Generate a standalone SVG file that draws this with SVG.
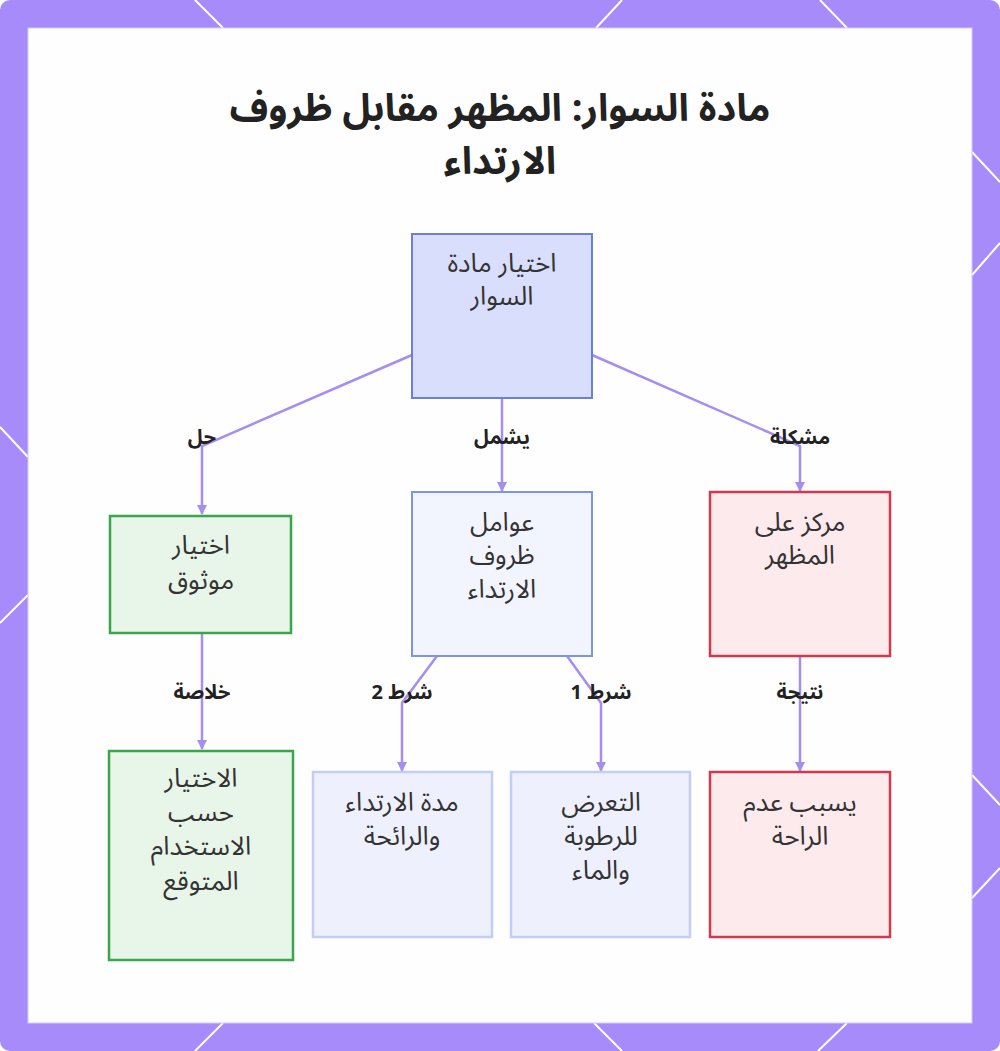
<svg xmlns="http://www.w3.org/2000/svg" width="1000" height="1051" viewBox="0 0 1000 1051">
<defs>
<style>
.bgl{stroke:#ffffff;stroke-width:2;fill:none}
.t{font-family:"Noto Sans Arabic","Noto Sans","DejaVu Sans",sans-serif;font-size:26px;fill:#333333;text-anchor:middle;direction:rtl}
.title{font-family:"Noto Sans Arabic","Noto Sans","DejaVu Sans",sans-serif;font-size:38px;font-weight:bold;fill:#222222;text-anchor:middle;direction:rtl}
.lbl{font-family:"Noto Sans Arabic","Noto Sans","DejaVu Sans",sans-serif;font-size:20px;font-weight:bold;fill:#222222;text-anchor:middle;direction:rtl}
.e{stroke:#a48ef0;stroke-width:2.5;fill:none;marker-end:url(#ah)}
.nTop{fill:#d9defc;stroke:#6b80d6;stroke-width:2}
.nMid{fill:#f3f5fe;stroke:#7d93e3;stroke-width:2}
.nGreen{fill:#e8f5e9;stroke:#3aa64c;stroke-width:2.5}
.nRed{fill:#fdeaec;stroke:#d03a4c;stroke-width:2.5}
.nLight{fill:#eef1fd;stroke:#c3cdf5;stroke-width:2.5}
</style>
<marker id="ah" viewBox="0 0 10 10" refX="9" refY="5" markerWidth="4" markerHeight="4" orient="auto" markerUnits="strokeWidth">
<path d="M0,0 L10,5 L0,10 z" fill="#a48ef0"/>
</marker>
</defs>
<rect x="0" y="0" width="1000" height="1051" rx="10" fill="#a78bfa"/>
<g id="bg-lines">
<line class="bgl" x1="195" y1="0" x2="223" y2="28"/>
<line class="bgl" x1="622" y1="0" x2="596" y2="28"/>
<line class="bgl" x1="820" y1="0" x2="847" y2="28"/>
<line class="bgl" x1="223" y1="1023" x2="195" y2="1051"/>
<line class="bgl" x1="594" y1="1023" x2="622" y2="1051"/>
<line class="bgl" x1="847" y1="1023" x2="818" y2="1051"/>
<line class="bgl" x1="0" y1="427" x2="28" y2="457"/>
<line class="bgl" x1="28" y1="595" x2="0" y2="623"/>
<line class="bgl" x1="972" y1="152" x2="1000" y2="182"/>
<line class="bgl" x1="972" y1="275" x2="1000" y2="243"/>
<line class="bgl" x1="972" y1="775" x2="1000" y2="805"/>
<line class="bgl" x1="972" y1="898" x2="1000" y2="868"/>
</g>
<rect x="28" y="28" width="944" height="995" fill="#fefefe" stroke="#d6c9fd" stroke-width="1"/>
<g id="title">
<text class="title" x="500" y="121">مادة السوار: المظهر مقابل ظروف</text>
<text class="title" x="500" y="174">الارتداء</text>
</g>
<g id="connectors">
<polyline class="e" points="412,355 202,446 202,514"/>
<polyline class="e" points="502,398 502,491"/>
<polyline class="e" points="592,355 800,446 800,491"/>
<polyline class="e" points="202,634 202,749"/>
<polyline class="e" points="437,656 402,703 402,771"/>
<polyline class="e" points="567,656 601,703 601,771"/>
<polyline class="e" points="800,656 800,771"/>
<text class="lbl" x="202" y="444">حل</text>
<text class="lbl" x="502" y="444">يشمل</text>
<text class="lbl" x="800" y="444">مشكلة</text>
<text class="lbl" x="202" y="699">خلاصة</text>
<text class="lbl" x="402" y="699">شرط 2</text>
<text class="lbl" x="601" y="699">شرط 1</text>
<text class="lbl" x="800" y="699">نتيجة</text>
</g>
<g id="node-choose">
<rect class="nTop" x="412" y="234" width="180" height="164"/>
<text class="t" x="502" y="272">اختيار مادة</text>
<text class="t" x="502" y="305">السوار</text>
</g>
<g id="node-reliable">
<rect class="nGreen" x="110" y="516" width="181" height="117"/>
<text class="t" x="201" y="554">اختيار</text>
<text class="t" x="201" y="589">موثوق</text>
</g>
<g id="node-factors">
<rect class="nMid" x="412" y="492" width="180" height="164"/>
<text class="t" x="502" y="531">عوامل</text>
<text class="t" x="502" y="564">ظروف</text>
<text class="t" x="502" y="598">الارتداء</text>
</g>
<g id="node-appearance">
<rect class="nRed" x="710" y="492" width="180" height="164"/>
<text class="t" x="800" y="531">مركز على</text>
<text class="t" x="800" y="564">المظهر</text>
</g>
<g id="node-usage">
<rect class="nGreen" x="109" y="751" width="184" height="209"/>
<text class="t" x="201" y="787">الاختيار</text>
<text class="t" x="201" y="821">حسب</text>
<text class="t" x="201" y="855">الاستخدام</text>
<text class="t" x="201" y="890">المتوقع</text>
</g>
<g id="node-duration">
<rect class="nLight" x="313" y="772" width="179" height="165"/>
<text class="t" x="402" y="811">مدة الارتداء</text>
<text class="t" x="402" y="845">والرائحة</text>
</g>
<g id="node-exposure">
<rect class="nLight" x="511" y="772" width="179" height="165"/>
<text class="t" x="601" y="811">التعرض</text>
<text class="t" x="601" y="845">للرطوبة</text>
<text class="t" x="601" y="879">والماء</text>
</g>
<g id="node-discomfort">
<rect class="nRed" x="710" y="772" width="180" height="165"/>
<text class="t" x="800" y="811">يسبب عدم</text>
<text class="t" x="800" y="845">الراحة</text>
</g>
</svg>
